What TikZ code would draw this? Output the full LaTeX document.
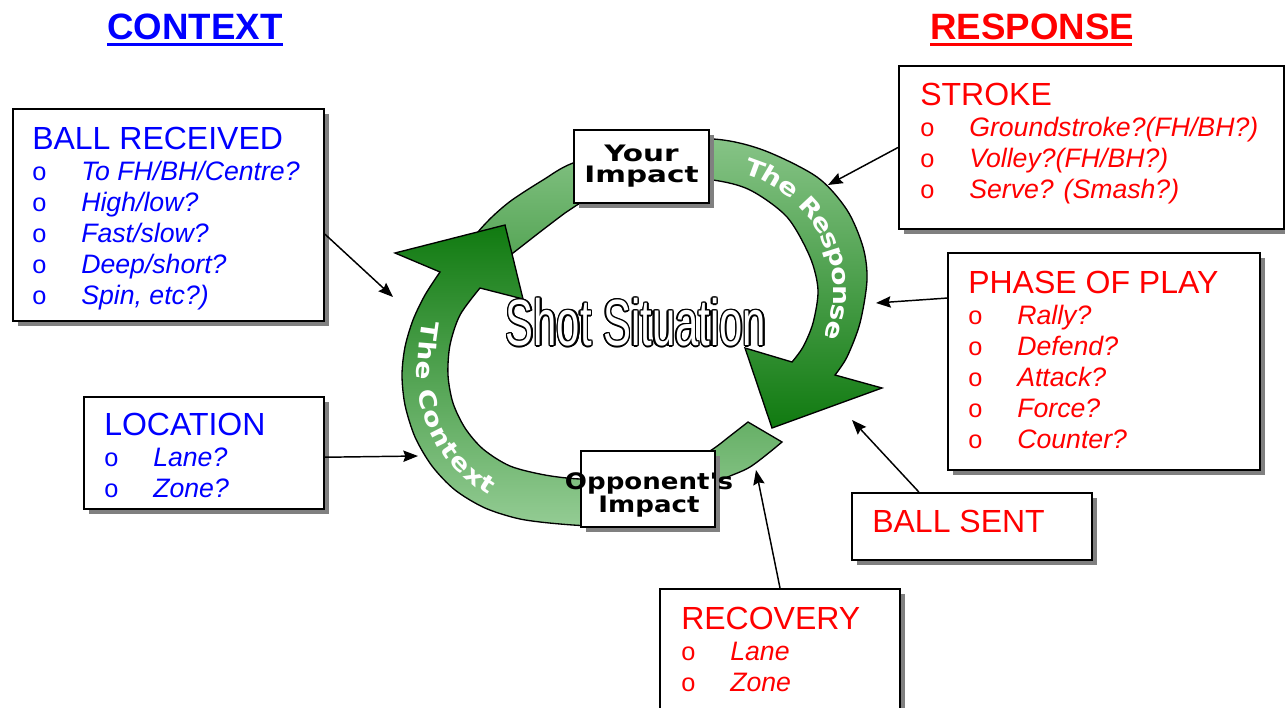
\documentclass[tikz,border=0pt]{standalone}
\usepackage{fontspec}
\setmainfont{Liberation Sans}
\newfontfamily\impactfont[FakeStretch=1.3]{DejaVu Sans}
\newfontfamily\oppfont[FakeStretch=1.15]{DejaVu Sans}
\newfontfamily\bandfont[FakeStretch=1.2]{DejaVu Sans}
\newfontfamily\shotfont[FakeStretch=0.64]{Liberation Sans}
\usepackage{contour}
\contourlength{1.1pt}
\usetikzlibrary{arrows.meta,shadows,decorations.text}

\definecolor{ringdark}{RGB}{16,122,16}
\definecolor{ringlight}{RGB}{148,204,148}
\definecolor{shadowgray}{RGB}{128,128,128}

\newcommand{\boxtitle}[1]{{\fontsize{24}{23.25}\selectfont #1}}
\newcommand{\qitem}[1]{\makebox[36.75pt][l]{\fontsize{19}{23.25}\selectfont o}\textit{#1}}
\newcommand{\bandstyle}{\bandfont\bfseries\fontsize{17.5}{18}\selectfont}

\begin{document}
\begin{tikzpicture}[x=0.75pt,y=-0.75pt,
  infobox/.style={draw=black, line width=1.5pt, fill=white, anchor=north west, inner sep=0pt,
    drop shadow={shadow xshift=3.75pt, shadow yshift=-3.75pt, fill=shadowgray, opacity=1}},
  bluelist/.style={anchor=north west, inner sep=0pt, align=left, text=blue,
    font=\fontsize{20}{23.25}\selectfont},
  redlist/.style={bluelist, text=red},
  impactbox/.style={draw=black, line width=1.5pt, fill=white, inner sep=0pt,
    drop shadow={shadow xshift=3.75pt, shadow yshift=-3.75pt, fill=shadowgray, opacity=1}},
  ring/.style={draw=black, line width=1pt},
  pointer/.style={line width=1.1pt, -{Stealth[length=11pt,width=8.5pt,inset=1.5pt]}},
  ]
\path[use as bounding box, fill=white] (0,0) rectangle (1285,707);

%The Response arrow
\draw[ring, top color=ringlight!90!ringdark, bottom color=ringdark]
  plot[smooth] coordinates {(470,245) (478,232) (493,216) (512,200) (543,180) (573,163) (640,143) (713,139) (763,150) (817,177) (847,210) (863,247) (867,280) (860,323) (847,357) (835,375)}
  -- (882,388) -- (772,428) -- (745,348)
  -- plot[smooth] coordinates {(792,362) (803,347) (813,323) (818,290) (810,257) (787,217) (750,190) (713,180) (660,177) (610,190) (577,205) (565,213) (540,232) (513,253) (500,262)}
  -- cycle;
%The Context arrow
\draw[ring, top color=ringdark, bottom color=ringlight]
  plot[smooth] coordinates {(440,272) (425,295) (413,320) (405,347) (402,375) (405,405) (415,437) (432,466) (455,490) (485,508) (520,519) (560,524) (600,526) (640,522) (680,507) (717,482) (750,467) (782,442)}
  -- (748,422)
  -- plot[smooth] coordinates {(748,422) (730,436) (713,449) (690,462) (660,472) (620,478) (580,479) (545,475) (510,466) (483,449) (465,428) (453,403) (448,375) (450,345) (460,315) (480,288)}
  -- (523,299) -- (505,225) -- (395,253) -- cycle;

% band labels
\path[decorate, decoration={text along path, text={|\bandstyle|The Response}, text color=white, raise=-6.5pt, text align=left}]
  plot coordinates {(746,165) (765,172) (782,182) (800,195) (814,210) (826,228) (834,246) (840,265) (842,283) (842,300) (839,318) (834,335) (828,348) (822,358) (815,370)};
\path[decorate, decoration={text along path, text={|\bandstyle|The Context}, text color=white, raise=-6.5pt, text align=left}]
  plot coordinates {(431,322) (427,350) (425,375) (427,393) (431,410) (437,426) (445,442) (454,455) (465,467) (478,478) (492,487) (508,494) (525,498) (542,500) (560,501) (590,502)};

% centre title
\node[inner sep=0pt, text=white] (shot) at (636,323) {\shotfont\fontsize{49}{55}\selectfont\contour{black}{Shot Situation}};

% impact boxes
\node[impactbox, minimum width=101.25pt, minimum height=54.75pt, align=center, font=\impactfont\bfseries\fontsize{17}{15.75}\selectfont] (yourimp) at (641.5,166.5) {Your\\Impact};
\node[impactbox, minimum width=100.5pt, minimum height=57pt] (oppimp) at (648,489) {};
\node[inner sep=0pt, align=center, font=\oppfont\bfseries\fontsize{17}{15}\selectfont] (opptext) at (649,495) {Opponent's\\Impact};

% context boxes
\node[infobox, minimum width=233.25pt, minimum height=159pt] (ballrec) at (12,108) {};
\node[bluelist] (ballrectxt) at (32,127) {\boxtitle{BALL RECEIVED}\\ \qitem{To FH/BH/Centre?}\\ \qitem{High/low?}\\ \qitem{Fast/slow?}\\ \qitem{Deep/short?}\\ \qitem{Spin, etc?)}};
\node[infobox, minimum width=180pt, minimum height=84pt] (location) at (83,396) {};
\node[bluelist] (locationtxt) at (104,413) {\boxtitle{LOCATION}\\ \qitem{Lane?}\\ \qitem{Zone?}};

% response boxes
\node[infobox, minimum width=288.75pt, minimum height=122.25pt] (stroke) at (898,65) {};
\node[redlist] (stroketxt) at (920,83) {\boxtitle{STROKE}\\ \qitem{Groundstroke?(FH/BH?)}\\ \qitem{Volley?(FH/BH?)}\\ \qitem{Serve? (Smash?)}};
\node[infobox, minimum width=234pt, minimum height=162.75pt] (phase) at (947,252) {};
\node[redlist] (phasetxt) at (968,271) {\boxtitle{PHASE OF PLAY}\\ \qitem{Rally?}\\ \qitem{Defend?}\\ \qitem{Attack?}\\ \qitem{Force?}\\ \qitem{Counter?}};
\node[infobox, minimum width=180pt, minimum height=50.25pt] (ballsent) at (851,492) {};
\node[redlist] (ballsenttxt) at (872,510) {\boxtitle{BALL SENT}};
\node[infobox, minimum width=180pt, minimum height=105pt] (recovery) at (659,588) {};
\node[redlist] (recoverytxt) at (681,607) {\boxtitle{RECOVERY}\\ \qitem{Lane}\\ \qitem{Zone}};

% headings
\node[anchor=base west, inner sep=0pt, text=blue, font=\bfseries\fontsize{27.5}{30}\selectfont] (ctxhead) at (107,39) {CONTEXT};
\node[anchor=base west, inner sep=0pt, text=red, font=\bfseries\fontsize{27.5}{30}\selectfont] (resphead) at (930,39) {RESPONSE};
\draw[blue, line width=2.25pt] (107,44) -- (283,44);
\draw[red, line width=2.25pt] (930,44) -- (1132,44);

% pointers onto the cycle
\coordinate (ctxinA) at (393,297);
\coordinate (ctxinB) at (418,456);
\coordinate (respinA) at (828,185);
\coordinate (respinB) at (876,303);
\coordinate (respinC) at (852,420);
\coordinate (respinD) at (756,470);
\draw[pointer] (ballrec.-7) -- (ctxinA);
\draw[pointer] (location.-2) -- (ctxinB);
\draw[pointer] (stroke.west) -- (respinA);
\draw[pointer] (phase.158) -- (respinB);
\draw[pointer] (ballsent.147) -- (respinC);
\draw[pointer] (recovery.north) -- (respinD);

\end{tikzpicture}
\end{document}
